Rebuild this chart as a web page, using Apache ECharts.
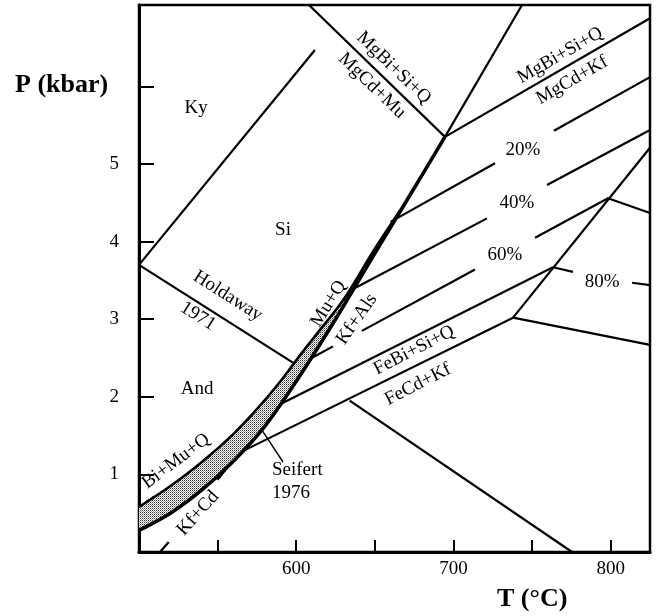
<!DOCTYPE html>
<html><head><meta charset="utf-8">
<script src="https://cdn.jsdelivr.net/npm/echarts@6/dist/echarts.min.js"></script>
<style>html,body{margin:0;padding:0;background:#fff}#c{width:656px;height:616px}</style>
</head><body><div id="c"></div>
<script>
// ---- axis ticks / labels ----
const xTickValues = [550, 600, 650, 700, 750, 800];
const xLabelValues = [600, 700, 800];
const yTickValues = [1, 2, 3, 4, 5, 6];
const yLabelValues = [1, 2, 3, 4, 5];

// ---- shaded band (Seifert 1976): upper and lower edges [T, P] ----
const bandUpper = [[500,0.58],[520,0.85],[540,1.16],[560,1.52],[575,1.84],[590,2.20],[603,2.55],[615,2.86],[630,3.25],[650,3.91],[666,4.40]];
const bandLower = [[500,0.28],[520,0.50],[540,0.80],[560,1.17],[580,1.62],[600,2.20],[625,3.00],[650,3.85],[670,4.52],[694.6,5.35]];

// ---- reaction lines [T, P] (segments split where labels sit) ----
const kySi      = [[500,3.70],[611.9,6.47]];
const holdaway  = [[500,3.70],[597.9,2.44]];
const mgMu      = [[608.1,7.05],[694.6,5.35]];
const invUp     = [[694.6,5.35],[743.6,7.05]];
const mgKf      = [[694.6,5.35],[825,6.88]];
const iso20a    = [[660,4.255],[726.4,5.01]];
const iso20b    = [[763.9,5.43],[825,6.12]];
const iso40a    = [[635,3.378],[721.3,4.30]];
const iso40b    = [[759.5,4.73],[825,5.44]];
const iso60a    = [[608,2.48],[623.4,2.65]];
const iso60b    = [[641.8,2.85],[713.7,3.64]];
const iso60c    = [[751.9,4.05],[798.3,4.56],[825,4.37]];
const steep     = [[825,5.21],[737.9,3.02]];
const iso80a    = [[763.3,3.67],[776.0,3.61]];
const iso80b    = [[813.6,3.47],[825,3.44]];
const feBiUp    = [[763.3,3.67],[585,1.855]];
const feBiLow   = [[825,2.67],[737.9,3.02],[566,1.30]];
const bottomDia = [[634,1.95],[775.4,0]];
const kfCdA     = [[513.4,0],[518.9,0.13]];
const kfCdB     = [[550,0.93],[567,1.37]];
const leader    = [[578.2,1.57],[591.6,1.16]];

// ---- annotations: [text, T, P, rotation deg, align] ----
const labels = [
  ['Ky', 536.3, 5.72, 0],
  ['Si', 591.6, 4.15, 0],
  ['And', 536.9, 2.10, 0],
  ['Holdaway', 556.5, 3.30, -32.5],
  ['1971', 537.5, 3.04, -32.5],
  ['MgBi+Si+Q', 662.0, 6.24, -44],
  ['MgCd+Mu', 648.2, 6.01, -44],
  ['MgBi+Si+Q', 767.8, 6.40, 30],
  ['MgCd+Kf', 775.4, 6.08, 30],
  ['20%', 744.2, 5.18, 0],
  ['40%', 740.4, 4.50, 0],
  ['60%', 732.8, 3.83, 0],
  ['80%', 794.5, 3.48, 0],
  ['Mu+Q', 620.5, 3.20, 58],
  ['Kf+Als', 638.5, 3.00, 55],
  ['FeBi+Si+Q', 674.9, 2.60, 27],
  ['FeCd+Kf', 677.4, 2.16, 27],
  ['Bi+Mu+Q', 523.5, 1.17, 37],
  ['Kf+Cd', 537.5, 0.50, 48],
  ['Seifert', 584.6, 1.06, 0, 'left'],
  ['1976', 584.6, 0.76, 0, 'left']
];

const SERIF = '"Liberation Serif", "DejaVu Serif", serif';

// stipple pattern for band
const pc = document.createElement('canvas'); pc.width = 2; pc.height = 2;
const g = pc.getContext('2d');
g.fillStyle = '#fff'; g.fillRect(0,0,2,2);
g.fillStyle = '#333'; g.fillRect(0,0,1,1);
g.fillStyle = '#999'; g.fillRect(1,1,1,1);

function seg(data, w, z) {
  return {type:'line', data:data, symbol:'none', silent:true, animation:false, clip:true,
          lineStyle:{color:'#000', width:w, cap:'butt', join:'round'}, z:z||2};
}

const lineSets = [kySi, holdaway, mgMu, invUp, mgKf, iso20a, iso20b, iso40a, iso40b,
  iso60a, iso60b, iso60c, steep, iso80a, iso80b, feBiUp, feBiLow, bottomDia, kfCdA, kfCdB];

const series = lineSets.map(d => seg(d, 2.2, 2));
series.push(seg(leader, 1.4, 2));
const SM = 0.35;
series.push({
  type:'custom', silent:true, animation:false, z:3, clip:true,
  data:[[0,0]],
  renderItem:function(params, api){
    const up = bandUpper.map(p => api.coord(p));
    const lo = bandLower.map(p => api.coord(p));
    return {type:'group', children:[
      {type:'polygon', shape:{points:up.concat(lo.slice().reverse()), smooth:SM},
        style:{fill:{image:pc, repeat:'repeat'}, stroke:null}},
      {type:'polyline', shape:{points:up, smooth:SM}, style:{stroke:'#000', lineWidth:2.6, fill:null}},
      {type:'polyline', shape:{points:lo, smooth:SM}, style:{stroke:'#000', lineWidth:3.6, fill:null}}
    ]};
  }
});
series.push({
  type:'custom', silent:true, animation:false, z:5, clip:false,
  data: labels.map(l => [l[1], l[2]]),
  renderItem:function(params, api){
    const L = labels[params.dataIndex];
    const p = api.coord([api.value(0), api.value(1)]);
    return {type:'text', x:p[0], y:p[1], rotation:L[3]*Math.PI/180,
      style:{text:L[0], font:'19px ' + SERIF, fill:'#000', align:L[4]||'center', verticalAlign:'middle'}};
  }
});

const chart = echarts.init(document.getElementById('c'), null, {renderer:'canvas'});
chart.setOption({
  animation:false,
  backgroundColor:'#fff',
  grid:{left:139, right:6, top:5, bottom:64, show:true, borderColor:'#000', borderWidth:2.5, containLabel:false, outerBoundsMode:'none'},
  xAxis:{type:'value', min:500, max:825,
    axisLine:{show:true, onZero:false, lineStyle:{color:'#000', width:3}},
    axisTick:{show:true, inside:true, length:12, customValues:xTickValues, lineStyle:{color:'#000', width:2}},
    axisLabel:{customValues:xLabelValues, color:'#000', fontFamily:SERIF, fontSize:19, margin:8},
    splitLine:{show:false}},
  yAxis:{type:'value', min:0, max:7.05,
    axisLine:{show:true, onZero:false, lineStyle:{color:'#000', width:3}},
    axisTick:{show:true, inside:true, length:15, customValues:yTickValues, lineStyle:{color:'#000', width:2}},
    axisLabel:{customValues:yLabelValues, color:'#000', fontFamily:SERIF, fontSize:19, margin:20},
    splitLine:{show:false}},
  graphic:[
    {type:'text', left:15, top:72, style:{text:'P (kbar)', font:'bold 26px ' + SERIF, fill:'#000'}},
    {type:'text', left:497, top:586, style:{text:'T (°C)', font:'bold 26px ' + SERIF, fill:'#000'}}
  ],
  series:series
});
</script></body></html>
